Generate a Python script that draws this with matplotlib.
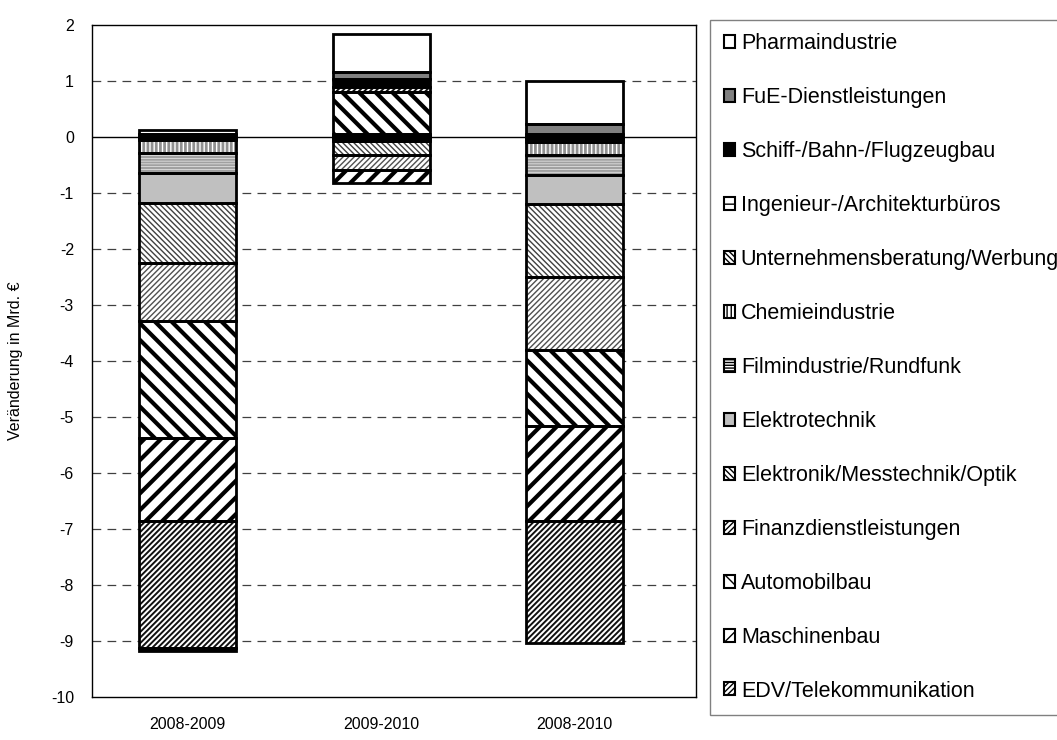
import matplotlib.pyplot as plt
import matplotlib.patches as mpatches
import numpy as np

plt.rcParams['font.family'] = ['Liberation Sans', 'DejaVu Sans']
plt.rcParams['axes.unicode_minus'] = False

perioden = ['2008-2009', '2009-2010', '2008-2010']

# Veränderung in Mrd. Euro je Branche (Werte aus dem Bild geschätzt)
pharma = [0.07, 0.68, 0.76]
fue = [0.05, 0.14, 0.18]
schiff = [-0.04, 0.14, 0.06]
ingenieur = [-0.02, -0.03, -0.04]
beratung = [-0.03, -0.03, -0.05]
chemie = [-0.23, 0.03, -0.22]
film = [-0.36, 0.02, -0.36]
elektrotechnik = [-0.53, -0.01, -0.53]
elektronik = [-1.07, -0.24, -1.30]
finanz = [-1.05, -0.27, -1.30]
automobil = [-2.09, 0.75, -1.36]
maschinenbau = [-1.47, -0.24, -1.70]
edv = [-2.28, 0.09, -2.18]

# Legendenreihenfolge (oben nach unten)
legende = ['Pharmaindustrie', 'FuE-Dienstleistungen', 'Schiff-/Bahn-/Flugzeugbau',
           'Ingenieur-/Architekturbüros', 'Unternehmensberatung/Werbung',
           'Chemieindustrie', 'Filmindustrie/Rundfunk', 'Elektrotechnik',
           'Elektronik/Messtechnik/Optik', 'Finanzdienstleistungen',
           'Automobilbau', 'Maschinenbau', 'EDV/Telekommunikation']

werte = {
    'Pharmaindustrie': pharma,
    'FuE-Dienstleistungen': fue,
    'Schiff-/Bahn-/Flugzeugbau': schiff,
    'Ingenieur-/Architekturbüros': ingenieur,
    'Unternehmensberatung/Werbung': beratung,
    'Chemieindustrie': chemie,
    'Filmindustrie/Rundfunk': film,
    'Elektrotechnik': elektrotechnik,
    'Elektronik/Messtechnik/Optik': elektronik,
    'Finanzdienstleistungen': finanz,
    'Automobilbau': automobil,
    'Maschinenbau': maschinenbau,
    'EDV/Telekommunikation': edv,
}

# Stapelreihenfolge ab der Nulllinie
stapel = ['Ingenieur-/Architekturbüros', 'Unternehmensberatung/Werbung',
          'Chemieindustrie', 'Filmindustrie/Rundfunk', 'Elektrotechnik',
          'Elektronik/Messtechnik/Optik', 'Finanzdienstleistungen',
          'Automobilbau', 'Maschinenbau', 'EDV/Telekommunikation',
          'Schiff-/Bahn-/Flugzeugbau', 'FuE-Dienstleistungen', 'Pharmaindustrie']

# fill, hatch, hatch colour, hatch linewidth
stil = {
    'Pharmaindustrie': ('white', '', 'black', 1.0),
    'FuE-Dienstleistungen': ('#808080', '', 'black', 1.0),
    'Schiff-/Bahn-/Flugzeugbau': ('black', '', 'black', 1.0),
    'Ingenieur-/Architekturbüros': ('white', '--', '#909090', 1.5),
    'Unternehmensberatung/Werbung': ('white', '\\\\\\\\\\\\', '#808080', 0.9),
    'Chemieindustrie': ('white', '||||', '#909090', 2.0),
    'Filmindustrie/Rundfunk': ('white', '------', '#a0a0a0', 1.6),
    'Elektrotechnik': ('#c0c0c0', '', 'black', 1.0),
    'Elektronik/Messtechnik/Optik': ('white', '\\\\\\\\\\\\', '#404040', 1.0),
    'Finanzdienstleistungen': ('white', '//////', '#505050', 1.0),
    'Automobilbau': ('white', '\\\\', 'black', 3.0),
    'Maschinenbau': ('white', '//', 'black', 3.0),
    'EDV/Telekommunikation': ('white', '//////', '#101010', 1.4),
}

fig = plt.figure(figsize=(10.57, 7.4), dpi=100)
ax = fig.add_axes([0.087, 0.058, 0.571, 0.908])

x = np.arange(len(perioden))
breite = 0.5
pos = np.zeros(len(perioden))
neg = np.zeros(len(perioden))

for name in stapel:
    v = np.array(werte[name])
    unten = np.where(v >= 0, pos, neg)
    farbe, muster, mfarbe, mlw = stil[name]
    b = ax.bar(x, v, breite, bottom=unten, color=farbe, edgecolor=mfarbe,
               linewidth=0, hatch=muster, zorder=3)
    for p in b.patches:
        p.set_hatch_linewidth(mlw)
    ax.bar(x, v, breite, bottom=unten, fill=False, edgecolor='black',
           linewidth=2, zorder=4)
    pos = pos + np.where(v >= 0, v, 0)
    neg = neg + np.where(v < 0, v, 0)

ax.axhline(0, color='black', linewidth=1, zorder=2)
ax.set_ylim(-10, 2)
ax.set_xlim(-0.494, 2.623)
ax.set_yticks(np.arange(-10, 3, 1))
ax.set_xticks(x)
ax.set_xticklabels(perioden, fontsize=11.5)
ax.tick_params(axis='y', labelsize=11.5, length=0, pad=13)
ax.tick_params(axis='x', length=0, pad=14)
for yv in range(-9, 2):
    if yv != 0:
        ax.axhline(yv, color='#404040', linewidth=0.9, linestyle=(0, (7, 5)), zorder=1)
for s in ax.spines.values():
    s.set_linewidth(1)
ax.set_ylabel('Veränderung in Mrd. €', fontsize=11.5, labelpad=20)

handles = []
for name in legende:
    farbe, muster, mfarbe, mlw = stil[name]
    h = mpatches.Patch(facecolor=farbe, edgecolor='black', hatch=muster, linewidth=1.5)
    handles.append(h)

leg = fig.legend(handles, legende, loc='upper left',
                 bbox_to_anchor=(0.672, 0.973), fontsize=15.5,
                 handlelength=0.55, handleheight=0.55, handletextpad=0.25,
                 labelspacing=1.53, borderpad=0.62, borderaxespad=0,
                 fancybox=False, frameon=True, edgecolor='#606060')
leg.get_frame().set_linewidth(1.0)

fig.savefig('out.png', dpi=100)
